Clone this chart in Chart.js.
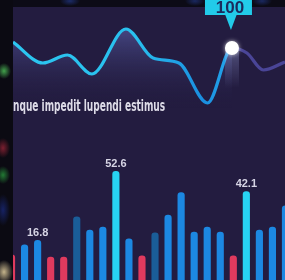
<!DOCTYPE html>
<html>
<head>
<meta charset="utf-8">
<script src="https://cdn.jsdelivr.net/npm/chart.js@4.4.1/dist/chart.umd.min.js"></script>
<style>
  body { margin: 0; width: 285px; height: 280px; overflow: hidden; background: #0c0b16; position: relative; }
  .abs { position: absolute; }
  #panel { left: 13px; top: 7px; right: 0; bottom: 0; background: #231c40; }
  #top { left: 0; top: 0; width: 285px; height: 7px;
    background:
      radial-gradient(ellipse 10px 5px at 70px 1px, rgba(40,70,170,0.55), transparent),
      radial-gradient(ellipse 10px 5px at 195px 1px, rgba(40,70,170,0.5), transparent),
      radial-gradient(ellipse 10px 5px at 262px 1px, rgba(40,70,170,0.5), transparent); }
  #side { left: 0; top: 0; width: 13px; height: 280px; z-index: 5;
    background:
      radial-gradient(ellipse 7px 8px at 4px 71px, rgba(80,200,90,0.8), transparent),
      radial-gradient(ellipse 7px 10px at 3px 148px, rgba(170,40,60,0.7), transparent),
      radial-gradient(ellipse 7px 9px at 3px 175px, rgba(40,150,60,0.8), transparent),
      radial-gradient(ellipse 7px 16px at 3px 210px, rgba(25,40,120,0.8), transparent),
      radial-gradient(ellipse 9px 12px at 4px 272px, rgba(230,210,160,0.85), transparent),
      #0b0a12; }
  #lineBox { left: 13px; top: 0; width: 272px; height: 140px; }
  #barBox { left: 5px; top: 140px; width: 287px; height: 140px; }
  #caption { left: 13px; top: 97px; color: #dedce8; font: bold 15px "Liberation Sans Narrow", "DejaVu Sans Condensed", sans-serif;
    white-space: nowrap; transform-origin: 0 0; }
</style>
</head>
<body>
<div id="panel" class="abs"></div>
<div id="top" class="abs"></div>
<div id="lineBox" class="abs"><canvas id="line"></canvas></div>
<div id="barBox" class="abs"><canvas id="bars"></canvas></div>
<div id="caption" class="abs">nque impedit lupendi estimus</div>
<div id="side" class="abs"></div>
<script>
// wave series
const waveX = [0, 11, 20, 29, 41.5, 51.5, 61, 71.5, 80.5, 86, 92, 100];
const waveY = [106, 85, 93, 74, 119, 90, 85, 45, 100, 95, 78, 86];
const highlightIndex = 8;

// bar series
const barValues = [9.2, 14.4, 16.8, 8.1, 8.1, 28.9, 22.1, 23.7, 52.6, 17.5, 8.7, 20.6, 29.9, 41.5, 21.1, 23.7, 21.1, 8.7, 42.1, 22.1, 23.7, 34.6];
const barKinds = ["low", "mid", "mid", "low", "low", "dim", "mid", "mid", "top", "mid", "low", "dim", "mid", "mid", "mid", "mid", "mid", "low", "top", "mid", "mid", "mid"];
const labelledBars = [2, 8, 18];

const kindColor = { low: "#e03a5e", mid: "#1c88e2", dim: "#1a5d98", top: "#27d3f3" };

// caption fit
const cap = document.getElementById('caption');
cap.style.transform = 'scaleX(' + (152 / cap.offsetWidth) + ')';

const callout = {
  id: 'callout',
  afterDatasetsDraw(chart) {
    const ctx = chart.ctx;
    const p = chart.getDatasetMeta(0).data[highlightIndex];
    const x = p.x, y = p.y;
    ctx.save();
    // glow below dot
    const g = ctx.createLinearGradient(0, y, 0, y + 40);
    g.addColorStop(0, 'rgba(170,180,240,0.35)');
    g.addColorStop(1, 'rgba(170,180,240,0)');
    ctx.fillStyle = g;
    ctx.fillRect(x - 7, y, 14, 40);
    // box
    ctx.fillStyle = '#22cbe9';
    ctx.fillRect(x - 27, -4, 47, 19);
    ctx.beginPath();
    ctx.moveTo(x - 7, 14);
    ctx.lineTo(x + 5, 14);
    ctx.lineTo(x - 1, 30);
    ctx.closePath();
    ctx.fill();
    ctx.fillStyle = '#1b2a5c';
    ctx.font = 'bold 17px "Liberation Sans Narrow", sans-serif';
    ctx.textAlign = 'center';
    ctx.textBaseline = 'alphabetic';
    ctx.fillText(String(waveY[highlightIndex]), x - 2, 13);
    // dot
    ctx.shadowColor = 'rgba(255,255,255,0.7)';
    ctx.shadowBlur = 4;
    ctx.fillStyle = '#ffffff';
    ctx.beginPath();
    ctx.arc(x, y, 7, 0, Math.PI * 2);
    ctx.fill();
    ctx.restore();
  }
};

const after = (c) => c.p0DataIndex >= highlightIndex;

new Chart(document.getElementById('line'), {
  type: 'line',
  data: {
    datasets: [{
      data: waveX.map((x, i) => ({ x: x, y: waveY[i] })),
      borderWidth: 3.2,
      cubicInterpolationMode: 'monotone',
      pointRadius: 0,
      fill: 'start',
      borderColor: (c) => {
        const a = c.chart.chartArea;
        if (!a) return '#27b8ec';
        const g = c.chart.ctx.createLinearGradient(a.left, 0, a.right, 0);
        g.addColorStop(0, '#2cc6f0');
        g.addColorStop(0.45, '#29c0ee');
        g.addColorStop(0.7, '#1a8ee0');
        g.addColorStop(0.8, '#25a8ea');
        g.addColorStop(1, '#25a8ea');
        return g;
      },
      backgroundColor: (c) => {
        const a = c.chart.chartArea;
        if (!a) return 'rgba(0,0,0,0)';
        const g = c.chart.ctx.createLinearGradient(0, 28, 0, 108);
        g.addColorStop(0, 'rgba(105,115,200,0.5)');
        g.addColorStop(1, 'rgba(35,28,64,0)');
        return g;
      },
      segment: {
        borderColor: (c) => after(c) ? '#4a4597' : undefined,
        backgroundColor: (c) => after(c) ? 'rgba(0,0,0,0)' : undefined
      }
    }]
  },
  options: {
    responsive: true,
    maintainAspectRatio: false,
    animation: false,
    layout: { padding: 0 },
    plugins: { legend: { display: false }, tooltip: { enabled: false } },
    scales: {
      x: { type: 'linear', min: 0, max: 100, display: false },
      y: { min: 8, max: 148, display: false }
    }
  },
  plugins: [callout]
});

const barLabelPlugin = {
  id: 'barLabels',
  afterDatasetsDraw(chart) {
    const ctx = chart.ctx;
    const meta = chart.getDatasetMeta(0);
    ctx.save();
    ctx.fillStyle = '#d6d4e4';
    ctx.font = 'bold 11px "Liberation Sans Narrow", sans-serif';
    ctx.textAlign = 'center';
    ctx.textBaseline = 'alphabetic';
    labelledBars.forEach((i) => {
      const b = meta.data[i];
      ctx.fillText(barValues[i].toFixed(1), b.x, b.y - 4);
    });
    ctx.restore();
  }
};

new Chart(document.getElementById('bars'), {
  type: 'bar',
  data: {
    labels: barValues.map((v, i) => i + 1),
    datasets: [{
      data: barValues,
      base: -6,
      backgroundColor: barKinds.map((k) => kindColor[k]),
      barThickness: 6.5,
      borderRadius: { topLeft: 3.5, topRight: 3.5 },
      borderSkipped: 'start'
    }]
  },
  options: {
    responsive: true,
    maintainAspectRatio: false,
    animation: false,
    layout: { padding: 0 },
    plugins: { legend: { display: false }, tooltip: { enabled: false } },
    scales: {
      x: { display: false },
      y: { min: -3.8, max: 68.8, display: false }
    }
  },
  plugins: [barLabelPlugin]
});
</script>
</body>
</html>
